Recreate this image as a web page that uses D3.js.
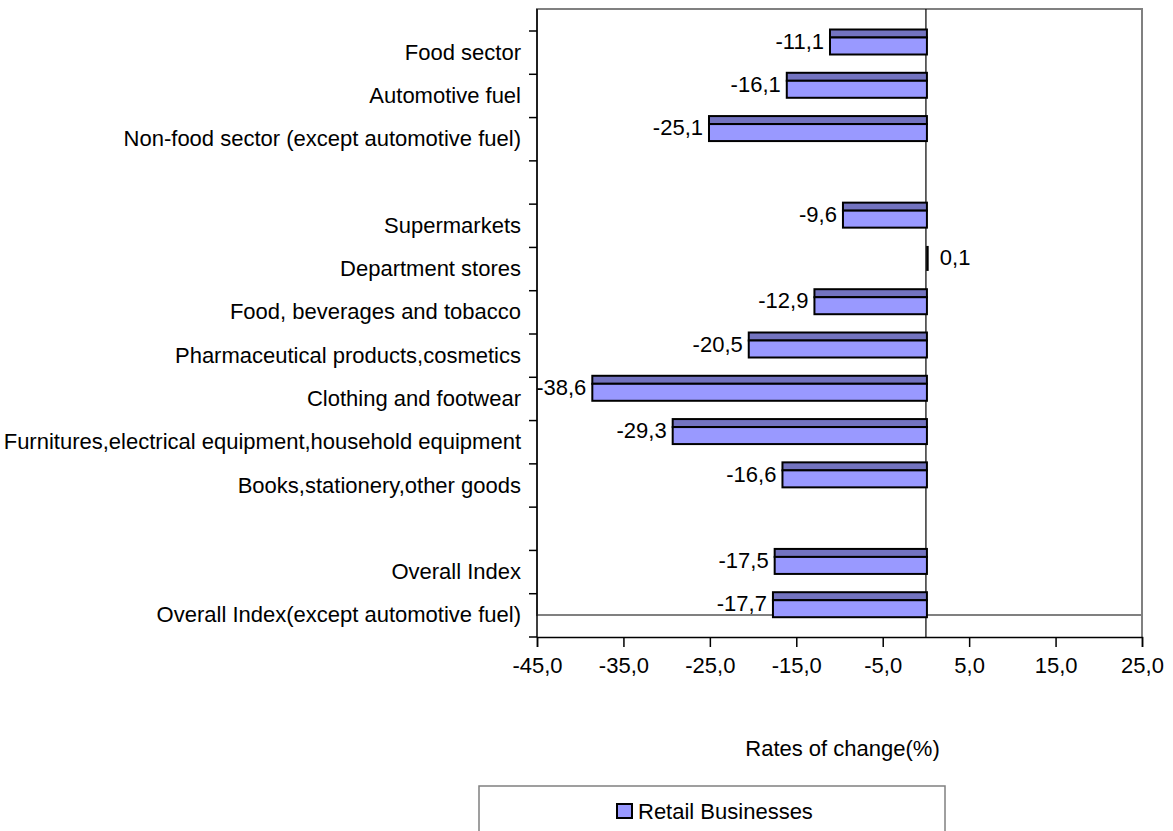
<!DOCTYPE html>
<html><head><meta charset="utf-8">
<script src="https://cdn.jsdelivr.net/npm/d3@7/dist/d3.min.js"></script>
<style>
html,body{margin:0;padding:0;background:#fff;}
svg{display:block;font-family:"Liberation Sans",Arial,sans-serif;}
</style></head>
<body><svg id="c" width="1173" height="831"></svg>
<script>
const categories = ["Food sector","Automotive fuel","Non-food sector (except automotive fuel)","",
  "Supermarkets","Department stores","Food, beverages and tobacco","Pharmaceutical products,cosmetics",
  "Clothing and footwear","Furnitures,electrical equipment,household equipment","Books,stationery,other goods","",
  "Overall Index","Overall Index(except automotive fuel)"];
const values = [-11.1,-16.1,-25.1,null,-9.6,0.1,-12.9,-20.5,-38.6,-29.3,-16.6,null,-17.5,-17.7];
const xTicks = [-45,-35,-25,-15,-5,5,15,25];
const seriesName = "Retail Businesses";
const axisTitle = "Rates of change(%)";

const FONT = "Liberation Sans, Arial, sans-serif";
const FS = 22;
const svg = d3.select("#c");
const L = 537, R = 1142, T = 31, B = 637, depth = 22;
const fmt = v => d3.format(".1f")(v).replace("\u2212", "-").replace(".", ",");
const x = d3.scaleLinear().domain([-45,25]).range([L,R]);
const y = d3.scaleBand().domain(d3.range(categories.length)).range([T,B]).padding(0);

// back wall
svg.append("rect").attr("x",L).attr("y",T-depth).attr("width",R-L).attr("height",B-T)
  .attr("fill","#fff").attr("stroke","#808080").attr("stroke-width",2);
svg.append("line").attr("x1",R).attr("x2",R).attr("y1",T-depth).attr("y2",B).attr("stroke","#808080").attr("stroke-width",2);

// zero line
svg.append("line").attr("x1",x(0)).attr("x2",x(0)).attr("y1",T-depth).attr("y2",B).attr("stroke","#000").attr("stroke-width",1.2);

// bars
const bw = y.bandwidth();
const g = svg.append("g");
categories.forEach((c,i)=>{
  const v = values[i];
  if (v === null) return;
  const x0 = Math.min(x(0), x(v)), x1 = Math.max(x(0), x(v)) + 1;
  const top = y(i) - 1.5, topH = 8, frontH = 17;
  if (x1 - x0 < 3) {
    g.append("line").attr("x1",x(0)+1.5).attr("x2",x(0)+1.5).attr("y1",top).attr("y2",top+topH+frontH)
      .attr("stroke","#000").attr("stroke-width",2.5);
  } else {
    g.append("rect").attr("x",x0).attr("y",top).attr("width",x1-x0).attr("height",topH)
      .attr("fill","#7373c0").attr("stroke","#000").attr("stroke-width",2);
    g.append("rect").attr("x",x0).attr("y",top+topH).attr("width",x1-x0).attr("height",frontH)
      .attr("fill","#9999ff").attr("stroke","#000").attr("stroke-width",2);
  }
  const ly = y(i) + 10;
  g.append("text").attr("x", v < 0 ? x(v) - 6 : x(v) + 13).attr("y", ly)
    .attr("dy","0.35em").attr("text-anchor", v < 0 ? "end" : "start")
    .attr("font-size",FS).attr("fill","#000").text(fmt(v));
});

// left axis
svg.append("line").attr("x1",L).attr("x2",L).attr("y1",T-depth).attr("y2",B).attr("stroke","#000").attr("stroke-width",1.5);
d3.range(categories.length+1).forEach(i=>{
  const yy = T + i*bw;
  svg.append("line").attr("x1",L-8).attr("x2",L).attr("y1",yy).attr("y2",yy).attr("stroke","#000").attr("stroke-width",1.5);
});
const ya = svg.append("g").attr("transform",`translate(${L-16},0)`)
  .call(d3.axisLeft(y).tickSize(0).tickPadding(0).tickFormat(i=>categories[i]));
ya.select(".domain").remove();
ya.selectAll("text").attr("font-size",FS).attr("font-family",FONT).attr("fill","#000");

// bottom axis
const xa = svg.append("g").attr("transform",`translate(0,${B})`)
  .call(d3.axisBottom(x).tickValues(xTicks).tickSize(10).tickPadding(10).tickFormat(fmt));
xa.select(".domain").attr("stroke","#000").attr("stroke-width",1.5);
xa.selectAll("line").attr("stroke","#000").attr("stroke-width",1.5);
xa.selectAll("text").attr("font-size",FS).attr("font-family",FONT).attr("fill","#000");

svg.append("text").attr("x",(L+R)/2+3).attr("y",748).attr("dy","0.35em").attr("text-anchor","middle")
  .attr("font-size",FS).text(axisTitle);

// legend
svg.append("rect").attr("x",479).attr("y",786).attr("width",466).attr("height",60)
  .attr("fill","#fff").attr("stroke","#808080").attr("stroke-width",1.5);
svg.append("rect").attr("x",617).attr("y",804).attr("width",15).attr("height",14)
  .attr("fill","#9999ff").attr("stroke","#000").attr("stroke-width",2);
svg.append("text").attr("x",638).attr("y",811).attr("dy","0.35em").attr("font-size",FS).text(seriesName);
</script></body></html>
